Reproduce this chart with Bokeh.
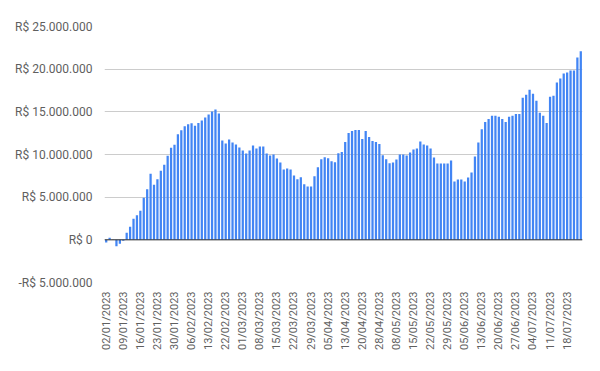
import math
from bokeh.plotting import figure
from bokeh.models import Range1d, FixedTicker, Span, ColumnDataSource
from bokeh.embed import file_html
from bokeh.resources import INLINE

# Business days (Brazil, 2023) shown as categories
jan = [2, 3, 4, 5, 6, 9, 10, 11, 12, 13, 16, 17, 18, 19, 20, 23, 24, 25, 26, 27, 30, 31]
feb = [1, 2, 3, 6, 7, 8, 9, 10, 13, 14, 15, 16, 17, 22, 23, 24, 27, 28]
mar = [1, 2, 3, 6, 7, 8, 9, 10, 13, 14, 15, 16, 17, 20, 21, 22, 23, 24, 27, 28, 29, 30, 31]
apr = [3, 4, 5, 6, 10, 11, 12, 13, 14, 17, 18, 19, 20, 24, 25, 26, 27, 28]
may = [2, 3, 4, 5, 8, 9, 10, 11, 12, 15, 16, 17, 18, 19, 22, 23, 24, 25, 26, 29, 30, 31]
jun = [1, 2, 5, 6, 7, 9, 12, 13, 14, 15, 16, 19, 20, 21, 22, 23, 26, 27, 28, 29, 30]
jul = [3, 4, 5, 6, 7, 10, 11, 12, 13, 14, 17, 18, 19, 20, 21, 24]
months = [(1, jan), (2, feb), (3, mar), (4, apr), (5, may), (6, jun), (7, jul)]
dates = [f"{d:02d}/{m:02d}/2023" for m, days in months for d in days]

# Values in millions of R$
values = [
    -0.30, 0.25, 0.03, -0.75, -0.45, -0.12, 0.82, 1.52, 2.46, 2.89,
    3.40, 4.92, 5.94, 7.73, 6.45, 7.11, 8.09, 8.79, 9.84, 10.78,
    11.13, 12.38, 12.85, 13.32, 13.55, 13.67, 13.36, 13.70, 13.98, 14.34,
    14.69, 15.04, 15.27, 14.80, 11.64, 11.29, 11.76, 11.40, 11.17, 10.82,
    10.47, 10.12, 10.47, 11.05, 10.70, 10.94, 10.94, 10.12, 9.88, 10.00,
    9.53, 9.06, 8.24, 8.36, 8.24, 7.54, 7.09, 7.32, 6.50, 6.26,
    6.26, 7.44, 8.50, 9.45, 9.69, 9.57, 9.21, 9.09, 10.16, 10.28,
    11.46, 12.52, 12.76, 12.87, 12.87, 11.81, 12.76, 12.05, 11.57, 11.46,
    11.22, 9.92, 9.45, 8.97, 9.06, 9.41, 10.00, 10.00, 9.88, 10.23,
    10.59, 10.70, 11.52, 11.17, 11.05, 10.70, 9.65, 8.95, 8.95, 8.95,
    8.95, 9.30, 6.84, 7.07, 7.07, 6.84, 7.30, 7.89, 9.77, 11.41,
    12.96, 13.80, 14.17, 14.53, 14.53, 14.41, 14.17, 13.82, 14.41, 14.53,
    14.76, 14.76, 16.65, 17.01, 17.60, 17.13, 16.30, 14.88, 14.53, 13.70,
    16.77, 16.89, 18.43, 18.90, 19.49, 19.61, 19.84, 19.84, 21.38, 22.09,
]

y_ticks = [-5000000, 0, 5000000, 10000000, 15000000, 20000000, 25000000]
y_labels = ["-R$ 5.000.000", "R$ 0", "R$ 5.000.000", "R$ 10.000.000",
            "R$ 15.000.000", "R$ 20.000.000", "R$ 25.000.000"]
label_step = 5

idx = list(range(len(dates)))
src = ColumnDataSource(dict(x=idx, top=[v * 1e6 for v in values], date=dates))

p = figure(width=600, height=371, output_backend="svg", toolbar_location=None,
           x_range=Range1d(-0.5, len(dates) - 0.5),
           y_range=Range1d(y_ticks[0], y_ticks[-1]),
           min_border_left=104, min_border_right=18,
           min_border_top=26, min_border_bottom=89)
p.outline_line_color = None
p.background_fill_color = "white"

p.vbar(x="x", top="top", bottom=0, width=0.66, source=src,
       fill_color="#4285f4", line_color=None)

p.xgrid.visible = False
p.ygrid.ticker = FixedTicker(ticks=y_ticks)
p.ygrid.grid_line_color = "#cccccc"
p.ygrid.grid_line_width = 1

p.add_layout(Span(location=0, dimension="width", line_color="#333333", line_width=1))

ya = p.yaxis[0]
ya.ticker = FixedTicker(ticks=y_ticks)
ya.major_label_overrides = {t: l for t, l in zip(y_ticks, y_labels)}
ya.axis_line_color = None
ya.major_tick_line_color = None
ya.minor_tick_line_color = None
ya.major_label_standoff = 6
ya.major_label_text_font = "Roboto"
ya.major_label_text_font_size = "12px"
ya.major_label_text_color = "#5f5f5f"

xa = p.xaxis[0]
xticks = idx[::label_step]
xa.ticker = FixedTicker(ticks=xticks)
xa.major_label_overrides = {i: dates[i] for i in xticks}
xa.major_label_orientation = math.pi / 2
xa.axis_line_color = None
xa.major_tick_line_color = None
xa.minor_tick_line_color = None
xa.major_label_standoff = 3
xa.major_label_text_font = "Roboto"
xa.major_label_text_font_size = "11px"
xa.major_label_text_color = "#5f5f5f"

open("out.html", "w").write(file_html(p, INLINE))
